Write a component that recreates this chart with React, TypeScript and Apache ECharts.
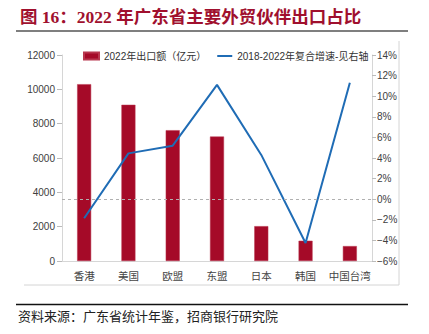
import React, { useEffect, useRef } from "react";
import * as echarts from "echarts";

const categories = ["香港", "美国", "欧盟", "东盟", "日本", "韩国", "中国台湾"];
const exportValues = [10300, 9100, 7620, 7250, 2030, 1180, 870];
const growthRates = [-1.85, 4.45, 5.2, 11.1, 4.3, -4.25, 11.3];
const leftTicks = { min: 0, max: 12000, interval: 2000 };
const rightTicks = { min: -6, max: 14, interval: 2 };
const barName = "2022年出口额（亿元）";
const lineName = "2018-2022年复合增速-见右轴";
const titleText = "图 16：2022 年广东省主要外贸伙伴出口占比";
const sourceText = "资料来源：广东省统计年鉴，招商银行研究院";

const FONT = '"Liberation Sans", Arial, "Noto Sans CJK SC", sans-serif';

export default function App() {
  const ref = useRef<HTMLDivElement>(null);
  useEffect(() => {
    if (!ref.current) return;
    const chart = echarts.init(ref.current, null, { renderer: "svg" });
    chart.setOption({
      animation: false,
      backgroundColor: "#ffffff",
      textStyle: { fontFamily: FONT },
      grid: { left: 62, right: 57, top: 55, bottom: 73 },
      legend: {
        left: 78,
        top: 46,
        itemGap: 10,
        itemWidth: 15,
        itemHeight: 7,
        textStyle: { fontSize: 10, color: "#333", fontFamily: FONT },
        data: [
          { name: barName, icon: "rect" },
          { name: lineName, itemStyle: { opacity: 0 } },
        ],
      },
      xAxis: {
        type: "category",
        data: categories,
        axisLine: { lineStyle: { color: "#d6d6d6" } },
        axisTick: { show: false },
        axisLabel: {
          interval: 0,
          fontSize: 10.5,
          color: "#444",
          margin: 9,
          fontFamily: '"Noto Sans CJK SC", sans-serif',
        },
      },
      yAxis: [
        {
          type: "value",
          min: leftTicks.min,
          max: leftTicks.max,
          interval: leftTicks.interval,
          axisLine: { show: true, lineStyle: { color: "#d6d6d6" } },
          axisTick: { show: true, length: 5, lineStyle: { color: "#bbb" } },
          axisLabel: { fontSize: 10, color: "#404040", margin: 7, formatter: (v: number) => String(v) },
          splitLine: { show: false },
        },
        {
          type: "value",
          min: rightTicks.min,
          max: rightTicks.max,
          interval: rightTicks.interval,
          position: "right",
          axisLine: { show: true, lineStyle: { color: "#d6d6d6" } },
          axisTick: { show: true, length: 4, lineStyle: { color: "#bbb" } },
          axisLabel: {
            fontSize: 10,
            color: "#404040",
            margin: 5,
            formatter: (v: number) => (v < 0 ? "\u2212" + Math.abs(v) : String(v)) + "%",
          },
          splitLine: { show: false },
        },
      ],
      series: [
        {
          name: barName,
          type: "bar",
          data: exportValues,
          barWidth: 14,
          itemStyle: { color: "#A50A28", borderColor: "#B8374E", borderWidth: 0.5 },
          yAxisIndex: 0,
        },
        {
          name: lineName,
          type: "line",
          data: growthRates,
          yAxisIndex: 1,
          symbol: "none",
          lineStyle: { color: "#1F6CB5", width: 2 },
          itemStyle: { color: "#1F6CB5" },
          markLine: {
            silent: true,
            symbol: ["none", "none"],
            label: { show: false },
            lineStyle: { color: "#b0b0b0", type: [3, 3], width: 1 },
            data: [{ yAxis: 0 }],
          },
        },
      ],
      graphic: [
        {
          type: "text",
          left: 20,
          top: 8,
          style: {
            text: titleText,
            fontSize: 17.5,
            fontWeight: "bold",
            fill: "#A0102E",
            fontFamily: '"Liberation Serif", "Noto Sans CJK SC", serif',
          },
        },
        { type: "line", shape: { x1: 16, y1: 31, x2: 408, y2: 31 }, style: { stroke: "#555", lineWidth: 1.5 } },
        { type: "line", shape: { x1: 399, y1: 41, x2: 399, y2: 285 }, style: { stroke: "#d4d4d4", lineWidth: 1 } },
        { type: "line", shape: { x1: 24, y1: 285, x2: 399, y2: 285 }, style: { stroke: "#d4d4d4", lineWidth: 1 } },
        { type: "line", shape: { x1: 16, y1: 304.5, x2: 408, y2: 304.5 }, style: { stroke: "#111", lineWidth: 1.5 } },
        {
          type: "text",
          left: 18,
          top: 309,
          style: {
            text: sourceText,
            fontSize: 13,
            fill: "#222",
            fontFamily: '"Noto Sans CJK SC", sans-serif',
          },
        },
      ],
    });
    return () => chart.dispose();
  }, []);
  return (
    <div
      ref={ref}
      style={{ position: "fixed", left: 0, top: 0, width: 429, height: 334 }}
    />
  );
}
